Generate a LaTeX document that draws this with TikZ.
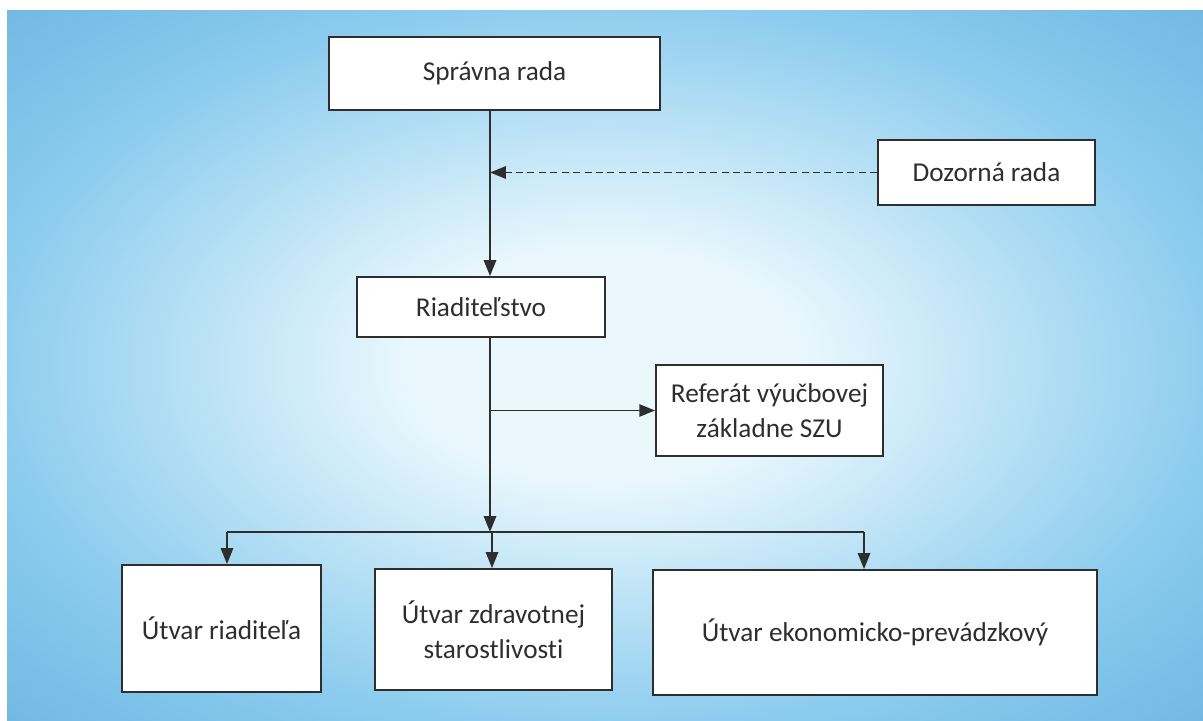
\documentclass[tikz,border=0pt]{standalone}
\usepackage{fontspec}
\setmainfont{Carlito}[Ligatures=NoCommon]
\usetikzlibrary{arrows.meta}
\definecolor{bgC}{HTML}{EAF8FD}
\definecolor{bgM}{HTML}{8ACBEE}
\definecolor{bgE}{HTML}{5FAADC}
\definecolor{bgO}{HTML}{58A3D8}
\definecolor{ink}{HTML}{2E2E2E}
\pgfdeclareradialshading{bgshade}{\pgfpoint{0bp}{0bp}}{%
  color(0bp)=(bgC); color(8bp)=(bgC); color(26bp)=(bgM); color(43bp)=(bgE); color(72bp)=(bgO)}
\tikzset{
  box/.style={draw=ink, line width=1.1pt, fill=white, text=ink, align=center, font=\fontsize{15.5}{20}\selectfont, inner sep=2pt},
  arr/.style={draw=ink, line width=1pt, -{Triangle[length=9pt,width=7pt]}},
  ln/.style={draw=ink, line width=1pt}
}
\begin{document}
\begin{tikzpicture}[x=0.02cm,y=-0.02cm]
\useasboundingbox (0,0) rectangle (1203,720);
\fill[white] (0,0) rectangle (1203,720);
\shade[shading=bgshade] (7,10) rectangle (1203,720);

\node[box, minimum width=6.62cm, minimum height=1.46cm] (sr) at (494.5,73.5) {Správna rada};
\node[box, minimum width=4.34cm, minimum height=1.30cm] (dr) at (986.5,172.5) {Dozorná rada};
\node[box, minimum width=4.96cm, minimum height=1.20cm] (ri) at (481,307) {Riaditeľstvo};
\node[box, minimum width=4.54cm, minimum height=1.82cm] (rf) at (769.5,410.5) {Referát výučbovej\\ základne SZU};
\node[box, minimum width=3.98cm, minimum height=2.54cm] (u1) at (221.5,628.5) {Útvar riaditeľa};
\node[box, minimum width=4.74cm, minimum height=2.42cm] (u2) at (493.5,629.5) {Útvar zdravotnej\\ starostlivosti};
\node[box, minimum width=8.88cm, minimum height=2.50cm] (u3) at (875,632.5) {Útvar ekonomicko-prevádzkový};

\coordinate (xs) at (490,0);
\coordinate (bus) at (490,532);
\coordinate (b1) at (227,532);
\coordinate (b2) at (492,532);
\coordinate (b3) at (864,532);

\draw[arr] (sr.south -| xs) -- (ri.north -| xs);
\draw[arr, dashed, dash pattern=on 4pt off 2.5pt] (dr.west) -- (dr.west -| xs);
\draw[arr] (ri.south -| xs) -- (bus);
\draw[arr] (xs |- rf.west) -- (rf.west);
\draw[ln] (b1) -- (b3);
\draw[arr] (b1) -- (b1 |- u1.north);
\draw[arr] (b2) -- (b2 |- u2.north);
\draw[arr] (b3) -- (b3 |- u3.north);
\end{tikzpicture}
\end{document}
